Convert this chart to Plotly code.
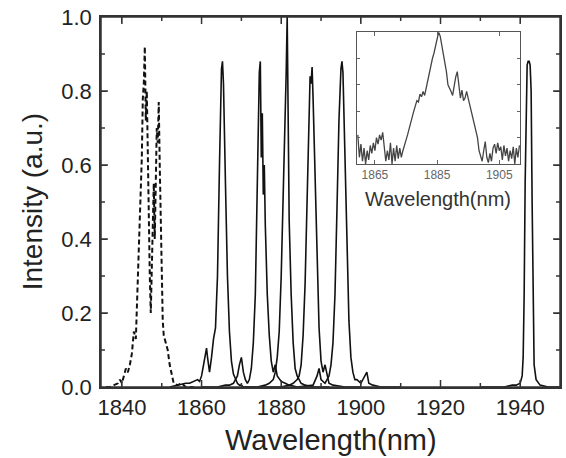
import plotly.graph_objects as go

# ---------------- data ----------------
# dashed spectrum (around 1846 nm)
dash_x = [1836, 1837, 1838, 1839, 1839.5, 1840, 1840.5, 1841, 1841.5, 1842, 1842.5, 1843, 1843.5,
          1844, 1844.5, 1845, 1845.25, 1845.5, 1845.75, 1846, 1846.25, 1846.5, 1846.75, 1847, 1847.25,
          1847.5, 1847.75, 1848, 1848.25, 1848.5, 1848.75, 1849, 1849.25, 1849.5, 1849.75, 1850,
          1850.25, 1850.5, 1851, 1851.5, 1852, 1852.5, 1853, 1854, 1855, 1856, 1858]
dash_y = [0, 0, 0.005, 0.01, 0.02, 0.01, 0.03, 0.05, 0.04, 0.06, 0.09, 0.15, 0.13,
          0.28, 0.45, 0.62, 0.78, 0.82, 0.92, 0.72, 0.8, 0.58, 0.45, 0.3, 0.2,
          0.35, 0.5, 0.55, 0.4, 0.6, 0.7, 0.66, 0.77, 0.6, 0.42, 0.3,
          0.18, 0.14, 0.12, 0.1, 0.06, 0.03, 0.01, 0.005, 0.01, 0, 0]

# solid spectra (tuned laser lines)
p1_x = [1852, 1854, 1856, 1857, 1858, 1859, 1859.5, 1860, 1860.5, 1861, 1861.25, 1861.5, 1862, 1862.5,
        1863, 1863.5, 1864, 1864.5, 1865, 1865.25, 1865.5, 1866, 1866.5, 1867, 1867.5, 1868, 1868.5,
        1869, 1869.5, 1870, 1870.5, 1872, 1876]
p1_y = [0.0, 0.005, 0.01, 0.01, 0.015, 0.02, 0.015, 0.03, 0.06, 0.1, 0.105, 0.08, 0.04, 0.08,
        0.13, 0.16, 0.3, 0.6, 0.86, 0.88, 0.82, 0.55, 0.3, 0.15, 0.07, 0.035, 0.02,
        0.01, 0.005, 0.005, 0.0, 0.0, 0.0]

p2_x = [1860, 1864, 1866, 1867, 1868, 1868.5, 1869, 1869.5, 1870, 1870.5, 1871, 1871.5, 1872, 1872.5,
        1873, 1873.5, 1874, 1874.25, 1874.5, 1874.75, 1875, 1875.25, 1875.5, 1875.75, 1876, 1876.25,
        1876.5, 1877, 1877.5, 1878, 1878.5, 1879, 1880, 1881, 1882, 1884, 1888]
p2_y = [0, 0, 0.005, 0.005, 0.01, 0.02, 0.03, 0.06, 0.08, 0.04, 0.02, 0.01, 0.02, 0.05,
        0.12, 0.25, 0.5, 0.7, 0.85, 0.88, 0.62, 0.74, 0.52, 0.6, 0.44, 0.34,
        0.25, 0.14, 0.07, 0.04, 0.06, 0.03, 0.015, 0.01, 0.005, 0, 0]

p3_x = [1870, 1874, 1876, 1877, 1878, 1878.5, 1879, 1879.5, 1880, 1880.5, 1881, 1881.25, 1881.5,
        1881.75, 1882, 1882.5, 1883, 1883.5, 1884, 1884.5, 1885, 1886, 1888, 1892]
p3_y = [0, 0, 0.005, 0.01, 0.02, 0.04, 0.08, 0.15, 0.3, 0.5, 0.75, 0.85, 1.0,
        0.8, 0.45, 0.25, 0.12, 0.05, 0.03, 0.02, 0.01, 0.005, 0, 0]

p4_x = [1876, 1880, 1882, 1883, 1884, 1884.5, 1885, 1885.5, 1886, 1886.5, 1887, 1887.25, 1887.5,
        1887.75, 1888, 1888.5, 1889, 1889.5, 1890, 1890.5, 1891, 1891.5, 1892, 1893, 1896, 1900]
p4_y = [0, 0, 0.005, 0.01, 0.02, 0.03, 0.06, 0.14, 0.28, 0.5, 0.78, 0.84, 0.82,
        0.865, 0.78, 0.55, 0.32, 0.16, 0.07, 0.04, 0.06, 0.03, 0.01, 0.005, 0, 0]

p5_x = [1884, 1888, 1889, 1889.5, 1890, 1891, 1892, 1892.5, 1893, 1893.5, 1894, 1894.5, 1895,
        1895.25, 1895.5, 1896, 1896.5, 1897, 1897.5, 1898, 1898.5, 1899, 1900, 1901, 1901.5, 1902,
        1903, 1905, 1910]
p5_y = [0, 0.005, 0.03, 0.05, 0.02, 0.01, 0.03, 0.06, 0.12, 0.25, 0.48, 0.72, 0.86,
        0.88, 0.85, 0.6, 0.35, 0.18, 0.08, 0.04, 0.02, 0.02, 0.01, 0.03, 0.04, 0.01,
        0.005, 0, 0]

p6_x = [1930, 1936, 1938, 1939, 1940, 1940.5, 1940.75, 1941, 1941.25, 1941.5, 1941.75, 1942,
        1942.25, 1942.5, 1942.75, 1943, 1943.25, 1943.5, 1944, 1945, 1947, 1950]
p6_y = [0, 0, 0.005, 0.005, 0.01, 0.03, 0.08, 0.25, 0.55, 0.8, 0.87, 0.88,
        0.88, 0.87, 0.8, 0.5, 0.2, 0.06, 0.02, 0.005, 0, 0]

# inset spectrum
ins_x = [1859.5, 1860.0, 1860.5, 1861.0, 1861.5, 1862.0, 1862.5, 1863.0, 1863.5, 1864.0, 1864.5,
         1865.0, 1865.5, 1866.0, 1866.5, 1867.0, 1867.5, 1868.0, 1868.5, 1869.0, 1869.5, 1870.0,
         1870.5, 1871.0, 1871.5, 1872.0, 1872.5, 1873.0, 1873.5, 1874.0, 1874.5, 1875.0, 1875.5,
         1876.0, 1876.5, 1877.0, 1877.5, 1878.0, 1878.5, 1879.0, 1879.5, 1880.0, 1880.5, 1881.0,
         1881.5, 1882.0, 1882.5, 1883.0, 1883.5, 1884.0, 1884.5, 1885.0, 1885.5, 1886.0, 1886.5,
         1887.0, 1887.5, 1888.0, 1888.5, 1889.0, 1889.5, 1890.0, 1890.5, 1891.0, 1891.5, 1892.0,
         1892.5, 1893.0, 1893.5, 1894.0, 1894.5, 1895.0, 1895.5, 1896.0, 1896.5, 1897.0, 1897.5,
         1898.0, 1898.5, 1899.0, 1899.5, 1900.0, 1900.5, 1901.0, 1901.5, 1902.0, 1902.5, 1903.0,
         1903.5, 1904.0, 1904.5, 1905.0, 1905.5, 1906.0, 1906.5, 1907.0, 1907.5, 1908.0, 1908.5,
         1909.0, 1909.5, 1910.0, 1910.5, 1911.0, 1911.5]
ins_y = [0.22, 0.05, 0.15, 0.02, 0.12, 0.0, 0.1, 0.03, 0.14, 0.08, 0.16,
         0.1, 0.2, 0.15, 0.22, 0.18, 0.24, 0.12, 0.02, 0.1, 0.03, 0.16,
         0.0, 0.12, 0.02, 0.14, 0.04, 0.12, 0.05, 0.1, 0.15, 0.18, 0.22,
         0.27, 0.3, 0.36, 0.4, 0.44, 0.48, 0.47, 0.53, 0.51, 0.55, 0.52,
         0.58, 0.62, 0.68, 0.74, 0.8, 0.84, 0.9, 0.96, 1.0, 0.97, 0.9,
         0.84, 0.78, 0.7, 0.6, 0.58, 0.55, 0.52, 0.6, 0.66, 0.7, 0.6,
         0.5, 0.56, 0.48, 0.5, 0.55, 0.5, 0.45, 0.4, 0.34, 0.3, 0.25,
         0.2, 0.1, 0.06, 0.02, 0.1, 0.17, 0.05, 0.01, 0.08, 0.02, 0.12,
         0.15, 0.08, 0.16, 0.1, 0.13, 0.03, 0.14, 0.06, 0.12, 0.02, 0.1,
         0.04, 0.13, 0.0, 0.12, 0.05, 0.14]

# tick values of the main panel
x_major = [1840, 1860, 1880, 1900, 1920, 1940]
x_minor = [1850, 1870, 1890, 1910, 1930]
y_major = [0.2, 0.4, 0.6, 0.8]
y_minor = [0.1, 0.3, 0.5, 0.7, 0.9]

x_title = "Wavelength(nm)"
y_title = "Intensity (a.u.)"
inset_title = "Wavelength(nm)"

# ---------------- figure ----------------
FONT = "Liberation Sans, Arial, sans-serif"
AX = "#333"
fig = go.Figure()

fig.add_trace(go.Scatter(x=dash_x, y=dash_y, mode="lines",
                         line=dict(color="#111", width=2, dash="5px,3px")))
for xs, ys in [(p1_x, p1_y), (p2_x, p2_y), (p3_x, p3_y), (p4_x, p4_y), (p5_x, p5_y), (p6_x, p6_y)]:
    fig.add_trace(go.Scatter(x=xs, y=ys, mode="lines", line=dict(color="#111", width=1.6)))

fig.add_trace(go.Scatter(x=ins_x, y=ins_y, mode="lines", xaxis="x2", yaxis="y2",
                         line=dict(color="#444", width=1.3)))

# frame + inward ticks of the main panel (mirrored on all four sides)
PLOT_W, PLOT_H = 461, 370
shapes = [dict(type="rect", xref="paper", yref="paper", x0=0, x1=1, y0=0, y1=1,
               line=dict(color=AX, width=1.5), fillcolor="rgba(0,0,0,0)", layer="above")]
for vals, ln in [(x_major, 7), (x_minor, 4)]:
    h = ln / PLOT_H
    for v in vals:
        shapes.append(dict(type="line", xref="x", yref="paper", x0=v, x1=v, y0=0, y1=h,
                           line=dict(color=AX, width=1.5), layer="above"))
        shapes.append(dict(type="line", xref="x", yref="paper", x0=v, x1=v, y0=1 - h, y1=1,
                           line=dict(color=AX, width=1.5), layer="above"))
for vals, ln in [(y_major, 7), (y_minor, 4)]:
    w = ln / PLOT_W
    for v in vals:
        shapes.append(dict(type="line", xref="paper", yref="y", x0=0, x1=w, y0=v, y1=v,
                           line=dict(color=AX, width=1.5), layer="above"))
        shapes.append(dict(type="line", xref="paper", yref="y", x0=1 - w, x1=1, y0=v, y1=v,
                           line=dict(color=AX, width=1.5), layer="above"))

fig.update_layout(
    width=566, height=458,
    margin=dict(l=101, r=4, t=17, b=71),
    paper_bgcolor="white", plot_bgcolor="rgba(0,0,0,0)",
    showlegend=False,
    xaxis=dict(range=[1834.75, 1950], tick0=1840, dtick=20,
               showline=True, linecolor=AX, linewidth=1.5, mirror="allticks",
               ticks="inside", ticklen=6, tickcolor=AX,
               showgrid=False, zeroline=False,
               tickfont=dict(size=22, family=FONT, color="#222")),
    yaxis=dict(range=[0, 1.0], dtick=0.2, tickformat=".1f",
               showline=True, linecolor=AX, linewidth=1.5, mirror="allticks",
               ticks="inside", ticklen=6, tickcolor=AX, ticklabelstandoff=3,
               showgrid=False, zeroline=False,
               tickfont=dict(size=22, family=FONT, color="#222")),
    xaxis2=dict(domain=[0.5575, 0.913], anchor="y2", range=[1859.2, 1911.7],
                tick0=1865, dtick=20,
                showline=True, linecolor="#555", linewidth=1, mirror="allticks",
                ticks="inside", ticklen=4, tickcolor="#666",
                showgrid=False, zeroline=False,
                tickfont=dict(size=12, family=FONT, color="#666")),
    yaxis2=dict(domain=[0.603, 0.959], anchor="x2", range=[0, 1.0], dtick=0.2,
                showticklabels=False,
                showline=True, linecolor="#555", linewidth=1, mirror="allticks",
                ticks="inside", ticklen=3, tickcolor="#666",
                showgrid=False, zeroline=False),
    shapes=shapes,
    annotations=[
        dict(text=x_title, xref="paper", yref="paper", x=0.5, y=-0.143,
             xanchor="center", yanchor="middle", showarrow=False,
             font=dict(size=29, family=FONT, color="#222")),
        dict(text=y_title, xref="paper", yref="paper", x=-0.1497, y=0.5, textangle=-90,
             xanchor="center", yanchor="middle", showarrow=False,
             font=dict(size=28, family=FONT, color="#222")),
        dict(text=inset_title, xref="paper", yref="paper", x=0.7352, y=0.508,
             xanchor="center", yanchor="middle", showarrow=False,
             font=dict(size=20, family=FONT, color="#333")),
    ],
)

fig.write_html("out.html", config={"displayModeBar": False},
               post_script="document.body.style.margin='0';document.body.style.overflow='hidden';")
